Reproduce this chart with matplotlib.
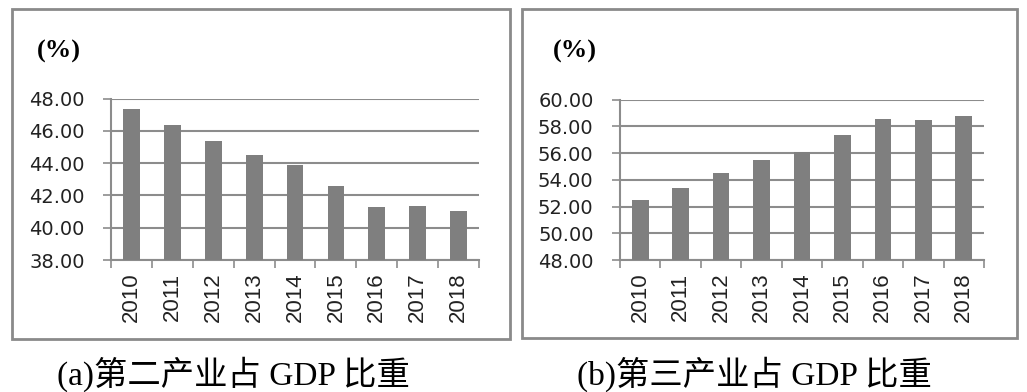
import matplotlib
matplotlib.use("Agg")
import matplotlib.pyplot as plt
from matplotlib.patches import Rectangle
import numpy as np

years = ['2010', '2011', '2012', '2013', '2014', '2015', '2016', '2017', '2018']
secondShare = [47.34, 46.35, 45.40, 44.49, 43.87, 42.60, 41.30, 41.37, 41.06]
thirdShare = [52.52, 53.41, 54.49, 55.46, 56.06, 57.36, 58.55, 58.45, 58.75]
capA = '(a)第二产业占 GDP 比重'
capB = '(b)第三产业占 GDP 比重'

barColor = '#7f7f7f'
lineColor = '#8c8c8c'
serif = ['Liberation Serif', 'Noto Sans CJK SC']


def drawPanel(fig, rect, vals, yMin, yMax, caption, capX, box, pctX):
   # grey frame around the whole panel
   fig.patches.append(Rectangle((box[0], box[1]), box[2], box[3], transform=fig.transFigure,
      fill=False, edgecolor='#8a8a8a', linewidth=2))
   ax = fig.add_axes(rect)
   x = np.arange(len(vals))
   ax.bar(x, np.array(vals) - yMin, bottom=yMin, width=0.41, color=barColor, zorder=3)
   ax.set_xlim(-0.5, len(vals) - 0.5)
   ax.set_ylim(yMin, yMax)
   ticks = np.arange(yMin, yMax + 0.1, 2)
   ax.set_yticks(ticks)
   ax.set_yticklabels([f'{v:.2f}' for v in ticks])
   ax.set_xticks(x)
   ax.set_xticklabels(years, rotation=90, family='Liberation Sans')
   ax.set_xticks(np.arange(-0.5, len(vals), 1), minor=True)
   ax.tick_params(axis='x', which='major', length=0, pad=9, labelsize=16, labelcolor='#222222')
   ax.tick_params(axis='x', which='minor', length=6, width=1.2, color=lineColor, direction='out')
   ax.tick_params(axis='y', length=6, width=1.2, color=lineColor, direction='out',
      pad=13, labelsize=14, labelcolor='#222222')
   ax.grid(True, axis='y', color=lineColor, linewidth=1.5, zorder=0)
   for s in ['top', 'right']:
      ax.spines[s].set_visible(False)
   for s in ['left', 'bottom']:
      ax.spines[s].set_color(lineColor)
      ax.spines[s].set_linewidth(1.5)
   fig.text(pctX, 0.869, '(%)', fontsize=19, fontweight='bold',
      family='Liberation Serif', ha='left', va='center')
   fig.text(capX, 0.046, caption, fontsize=24, family=serif, ha='center', va='center')
   return ax


def main():
   plt.rcParams['font.family'] = ['DejaVu Sans', 'Noto Sans CJK SC']
   fig = plt.figure(figsize=(10.27, 3.92), dpi=100, facecolor='white')
   drawPanel(fig, [0.1081, 0.3367, 0.3583, 0.4115], secondShare, 38, 48, capA, 0.227,
      [0.0117, 0.135, 0.4849, 0.842], 0.036)
   drawPanel(fig, [0.6037, 0.3367, 0.3544, 0.409], thirdShare, 48, 60, capB, 0.735,
      [0.5083, 0.138, 0.4820, 0.839], 0.538)
   fig.savefig('out.png', dpi=100)


if __name__ == "__main__":
   main()
